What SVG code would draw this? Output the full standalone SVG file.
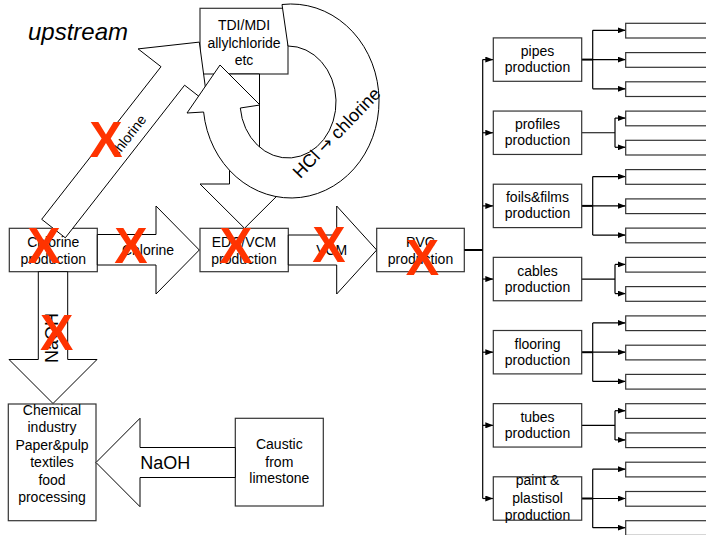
<svg xmlns="http://www.w3.org/2000/svg" width="706" height="535" viewBox="0 0 706 535">
<defs>
<marker id="ah" viewBox="0 0 8 6" refX="8" refY="3" markerWidth="8" markerHeight="6" markerUnits="userSpaceOnUse" orient="auto"><path d="M0,0 L8,3 L0,6 z" fill="#000"/></marker>
<style>
.box{fill:#fff;stroke:#333;stroke-width:1.2}
.blk{fill:#fff;stroke:#000;stroke-width:1}
.t{font-family:"Liberation Sans",Arial,sans-serif;font-size:14px;fill:#000;text-anchor:middle}
.big{font-size:18px}
.x{font-family:"Liberation Sans",Arial,sans-serif;font-size:50px;font-weight:bold;fill:#FF3300;text-anchor:middle}
.ln{fill:none;stroke:#000;stroke-width:1.2}
.thk{fill:none;stroke:#000;stroke-width:2}
.ar{fill:none;stroke:#000;stroke-width:1.2;marker-end:url(#ah)}
.sub{fill:#fff;stroke:#333;stroke-width:1.2}
</style>
</defs>
<rect width="706" height="535" fill="#fff"/>
<text x="28" y="40" style="font-family:'Liberation Sans',Arial,sans-serif;font-size:24px;font-style:italic">upstream</text>

<g id="chlorine-production"><rect class="box" x="9.3" y="228.3" width="88" height="43.4"/><text class="t" x="53.3" y="246.5">Chlorine</text><text class="t" x="53.3" y="263.5">production</text></g>
<g id="edc-vcm-production"><rect class="box" x="200" y="228.3" width="88.3" height="43.4"/><text class="t" x="244" y="246.5">EDC/VCM</text><text class="t" x="244" y="263.5">production</text></g>
<g id="pvc-production"><rect class="box" x="376.7" y="228.3" width="87.6" height="43.4"/><text class="t" x="420.5" y="246.5">PVC</text><text class="t" x="420.5" y="263.5">production</text></g>
<g id="tdi-mdi"><rect class="box" x="200" y="8.3" width="88" height="65.7"/><text class="t" x="244" y="30">TDI/MDI</text><text class="t" x="244" y="47.5">allylchloride</text><text class="t" x="244" y="65">etc</text></g>
<g id="chemical-industry"><rect class="box" x="8.3" y="404" width="87.7" height="116.7"/><text class="t" x="52" y="415">Chemical</text><text class="t" x="52" y="432.4">industry</text><text class="t" x="52" y="449.8">Paper&amp;pulp</text><text class="t" x="52" y="467.2">textiles</text><text class="t" x="52" y="484.6">food</text><text class="t" x="52" y="502">processing</text></g>
<g id="caustic"><rect class="box" x="235.3" y="418.3" width="88" height="87.7"/><text class="t" x="279.3" y="449">Caustic</text><text class="t" x="279.3" y="466.7">from</text><text class="t" x="279.3" y="483.3">limestone</text></g>

<g id="connectors">
<polygon class="blk" points="97.3,234.5 156,234.5 156,206 199.3,250 156,294 156,265 97.3,265"/>
<text class="t" x="148" y="255">Chlorine</text>
<polygon class="blk" points="288.3,235 336.7,235 336.7,206 376.7,250 336.7,294 336.7,265 288.3,265"/>
<text class="t" x="331.7" y="255">VCM</text>
<polygon class="blk" points="38.3,271.7 67.7,271.7 67.7,359.5 97,359.5 53,403.5 9,359.5 38.3,359.5"/>
<text class="t big" transform="translate(58,338) rotate(-90)">NaOH</text>
<polygon class="blk" points="235.3,447.5 140,447.5 140,418.3 96,462.5 140,506.7 140,477.5 235.3,477.5"/>
<text class="t big" x="165.3" y="468.5">NaOH</text>
<polygon class="blk" points="41.7,219.3 161,66.7 138.1,48.9 199.3,42.1 207.5,103.1 184.6,85.2 65.3,237.8"/>
<text class="t" transform="translate(132,139) rotate(-52)">chlorine</text>
<polygon class="blk" points="229.5,74 259.5,74 259.5,184 289,184 244.5,228.3 200,184 229.5,184"/>
<path class="blk" d="M282,4.5 A88,97 0 1 1 203.6,112 L187,113 L220,65 L260,105 L240.3,108 A48,56 0 1 0 288,46 Z"/>
<text class="t big" transform="translate(341,137) rotate(-46)">HCl <tspan style="font-family:'DejaVu Sans',sans-serif;font-size:17px">→</tspan> chlorine</text>

<path class="thk" d="M464.3,250 H482.7"/>
<path class="ln" d="M482.7,59.6 V498.5"/>
<path class="ar" d="M482.7,59.6 H493.3"/>
<path class="ar" d="M482.7,132.75 H493.3"/>
<path class="ar" d="M482.7,205.9 H493.3"/>
<path class="ar" d="M482.7,279.05 H493.3"/>
<path class="ar" d="M482.7,352.2 H493.3"/>
<path class="ar" d="M482.7,425.35 H493.3"/>
<path class="ar" d="M482.7,498.5 H493.3"/>

<path class="thk" d="M581.7,59.6 H592.7"/>
<path class="ln" d="M592.7,30.3 V88.8"/>
<path class="ar" d="M592.7,30.3 H625.7"/><path class="ar" d="M592.7,59.6 H625.7"/><path class="ar" d="M592.7,88.8 H625.7"/>
<path class="ln" d="M581.7,132.75 H615 M615,118.1 V147.3"/>
<path class="ar" d="M615,118.1 H625.7"/><path class="ar" d="M615,147.3 H625.7"/>
<path class="thk" d="M581.7,205.9 H592.7"/>
<path class="ln" d="M592.7,176.6 V235.1"/>
<path class="ar" d="M592.7,176.6 H625.7"/><path class="ar" d="M592.7,205.9 H625.7"/><path class="ar" d="M592.7,235.1 H625.7"/>
<path class="ln" d="M581.7,279.05 H615 M615,264.4 V293.6"/>
<path class="ar" d="M615,264.4 H625.7"/><path class="ar" d="M615,293.6 H625.7"/>
<path class="thk" d="M581.7,352.2 H592.7"/>
<path class="ln" d="M592.7,322.9 V381.4"/>
<path class="ar" d="M592.7,322.9 H625.7"/><path class="ar" d="M592.7,352.2 H625.7"/><path class="ar" d="M592.7,381.4 H625.7"/>
<path class="ln" d="M581.7,425.35 H615 M615,410.7 V439.9"/>
<path class="ar" d="M615,410.7 H625.7"/><path class="ar" d="M615,439.9 H625.7"/>
<path class="thk" d="M581.7,498.5 H592.7"/>
<path class="ln" d="M592.7,469.2 V527.7"/>
<path class="ar" d="M592.7,469.2 H625.7"/><path class="ar" d="M592.7,498.5 H625.7"/><path class="ar" d="M592.7,527.7 H625.7"/>
</g>

<g id="pipes"><rect class="box" x="493.3" y="37.9" width="88.4" height="43.4"/><text class="t" x="537.5" y="56.1">pipes</text><text class="t" x="537.5" y="72.1">production</text></g>
<g id="profiles"><rect class="box" x="493.3" y="111.05" width="88.4" height="43.4"/><text class="t" x="537.5" y="129.25">profiles</text><text class="t" x="537.5" y="145.25">production</text></g>
<g id="foils"><rect class="box" x="493.3" y="184.2" width="88.4" height="43.4"/><text class="t" x="537.5" y="202.4">foils&amp;films</text><text class="t" x="537.5" y="218.4">production</text></g>
<g id="cables"><rect class="box" x="493.3" y="257.35" width="88.4" height="43.4"/><text class="t" x="537.5" y="275.55">cables</text><text class="t" x="537.5" y="291.55">production</text></g>
<g id="flooring"><rect class="box" x="493.3" y="330.5" width="88.4" height="43.4"/><text class="t" x="537.5" y="348.7">flooring</text><text class="t" x="537.5" y="364.7">production</text></g>
<g id="tubes"><rect class="box" x="493.3" y="403.65" width="88.4" height="43.4"/><text class="t" x="537.5" y="421.85">tubes</text><text class="t" x="537.5" y="437.85">production</text></g>
<g id="paint"><rect class="box" x="493.3" y="476.8" width="88.4" height="43.4"/><text class="t" x="537.5" y="485">paint &amp;</text><text class="t" x="537.5" y="502.5">plastisol</text><text class="t" x="537.5" y="519.9">production</text></g>

<g id="sub-boxes">
<rect class="sub" x="625.7" y="23.3" width="100" height="14.7"/>
<rect class="sub" x="625.7" y="52.6" width="100" height="14.7"/>
<rect class="sub" x="625.7" y="81.8" width="100" height="14.7"/>
<rect class="sub" x="625.7" y="111.1" width="100" height="14.7"/>
<rect class="sub" x="625.7" y="140.3" width="100" height="14.7"/>
<rect class="sub" x="625.7" y="169.6" width="100" height="14.7"/>
<rect class="sub" x="625.7" y="198.9" width="100" height="14.7"/>
<rect class="sub" x="625.7" y="228.1" width="100" height="14.7"/>
<rect class="sub" x="625.7" y="257.4" width="100" height="14.7"/>
<rect class="sub" x="625.7" y="286.6" width="100" height="14.7"/>
<rect class="sub" x="625.7" y="315.9" width="100" height="14.7"/>
<rect class="sub" x="625.7" y="345.2" width="100" height="14.7"/>
<rect class="sub" x="625.7" y="374.4" width="100" height="14.7"/>
<rect class="sub" x="625.7" y="403.7" width="100" height="14.7"/>
<rect class="sub" x="625.7" y="432.9" width="100" height="14.7"/>
<rect class="sub" x="625.7" y="462.2" width="100" height="14.7"/>
<rect class="sub" x="625.7" y="491.5" width="100" height="14.7"/>
<rect class="sub" x="625.7" y="520.7" width="100" height="14.7"/>
</g>

<g id="marks">
<text class="x" x="106" y="156.5">X</text>
<text class="x" x="44" y="263">X</text>
<text class="x" x="131" y="263">X</text>
<text class="x" x="236" y="263">X</text>
<text class="x" x="329" y="262">X</text>
<text class="x" x="422.5" y="275">X</text>
<text class="x" x="56.7" y="350">X</text>
</g>
</svg>
